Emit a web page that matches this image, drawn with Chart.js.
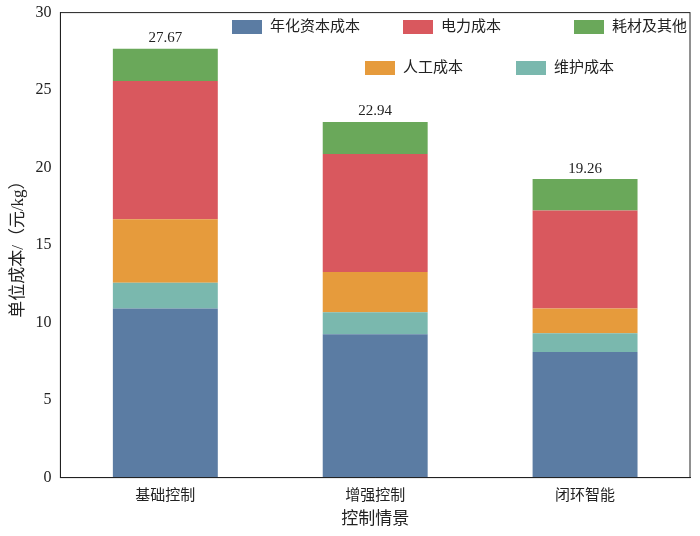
<!DOCTYPE html>
<html>
<head>
<meta charset="utf-8">
<script src="https://cdn.jsdelivr.net/npm/chart.js@4"></script>
<style>
  body { margin: 0; background: #fff; }
  #wrap { width: 700px; height: 536px; }
</style>
</head>
<body>
<div id="wrap"><canvas id="c"></canvas></div>
<script>
const categories = ['基础控制', '增强控制', '闭环智能'];
const capital = [10.91, 9.25, 8.10];
const maintenance = [1.66, 1.41, 1.22];
const labor = [4.09, 2.61, 1.59];
const power = [8.93, 7.60, 6.32];
const consumables = [2.08, 2.07, 2.03];
const totals = [27.67, 22.94, 19.26];
const yTicks = [0, 5, 10, 15, 20, 25, 30];

const FONT = '"Liberation Serif", "Noto Sans CJK SC", serif';
const colors = {
    capital: '#5b7ca3', power: '#d9585e', consumables: '#6aa85a',
    labor: '#e69b3c', maintenance: '#7ab8ae'
};

// 图例顺序与堆叠顺序不同，自己画
const legendRows = [
    [['年化资本成本', colors.capital, 232], ['电力成本', colors.power, 403], ['耗材及其他', colors.consumables, 574]],
    [['人工成本', colors.labor, 365], ['维护成本', colors.maintenance, 516]]
];

const extras = {
    id: 'extras',
    afterDraw(chart) {
        const ctx = chart.ctx;
        const a = chart.chartArea;
        ctx.save();
        ctx.strokeStyle = '#222';
        ctx.lineWidth = 1;
        ctx.strokeRect(a.left, a.top, a.right - a.left, a.bottom - a.top);

        // 总计标签
        const meta = chart.getDatasetMeta(4);
        ctx.fillStyle = '#222';
        ctx.font = '15px ' + FONT;
        ctx.textAlign = 'center';
        ctx.textBaseline = 'bottom';
        meta.data.forEach((bar, i) => {
            ctx.fillText(totals[i].toFixed(2), bar.x, chart.scales.y.getPixelForValue(totals[i]) - 3);
        });

        ctx.font = '15px ' + FONT;
        ctx.textAlign = 'left';
        ctx.textBaseline = 'middle';
        legendRows.forEach((row, r) => {
            const y = r === 0 ? 27 : 68;
            row.forEach(([label, color, x]) => {
                ctx.fillStyle = color;
                ctx.fillRect(x, y - 7, 30, 14);
                ctx.fillStyle = '#222';
                ctx.fillText(label, x + 38, y);
            });
        });
        ctx.restore();
    }
};

function ds(label, data, color) {
    return { label: label, data: data, backgroundColor: color, borderWidth: 0,
             barPercentage: 0.5, categoryPercentage: 1.0 };
}

new Chart(document.getElementById('c'), {
    type: 'bar',
    data: {
        labels: categories,
        datasets: [
            ds('年化资本成本', capital, colors.capital),
            ds('维护成本', maintenance, colors.maintenance),
            ds('人工成本', labor, colors.labor),
            ds('电力成本', power, colors.power),
            ds('耗材及其他', consumables, colors.consumables)
        ]
    },
    options: {
        responsive: true,
        maintainAspectRatio: false,
        animation: false,
        layout: { padding: { top: 11, right: 10, left: 4, bottom: 2 } },
        plugins: { legend: { display: false }, tooltip: { enabled: false } },
        scales: {
            x: {
                stacked: true,
                grid: { display: false, drawTicks: true, tickLength: 6 },
                border: { color: '#222' },
                ticks: { color: '#222', font: { family: FONT, size: 15 } },
                title: { display: true, text: '控制情景', color: '#222', font: { family: FONT, size: 17 }, padding: { top: 2 } }
            },
            y: {
                stacked: true,
                min: 0, max: 30,
                afterBuildTicks: axis => { axis.ticks = yTicks.map(v => ({ value: v })); },
                grid: { display: false, drawTicks: true, tickLength: 6 },
                border: { color: '#222' },
                ticks: { color: '#222', font: { family: FONT, size: 16 } },
                title: { display: true, text: '单位成本/（元/kg）', color: '#222', font: { family: FONT, size: 17 } }
            }
        }
    },
    plugins: [extras]
});
</script>
</body>
</html>
